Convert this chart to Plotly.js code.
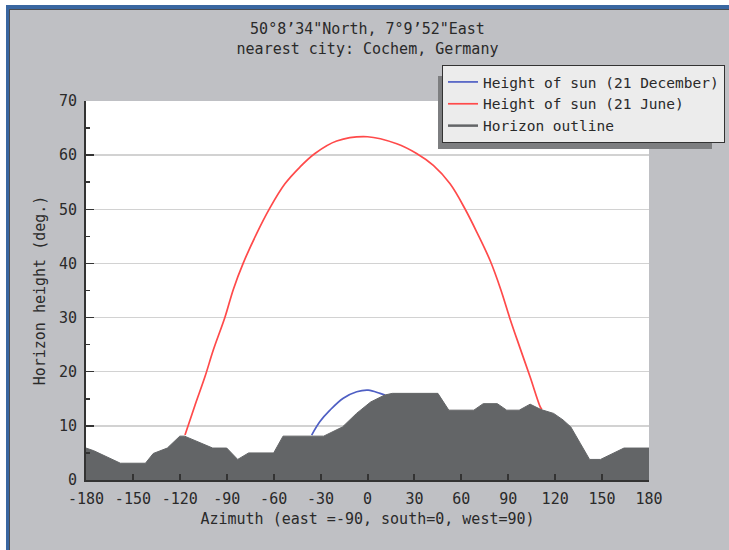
<!DOCTYPE html>
<html><head><meta charset="utf-8">
<script src="https://cdn.plot.ly/plotly-3.0.1.min.js"></script>
<style>
html,body{margin:0;padding:0;background:#fff;}
#wrap{position:relative;width:729px;height:550px;overflow:hidden;}
#chart{position:absolute;left:0;top:0;width:729px;height:550px;}
.f{position:absolute;pointer-events:none;}
</style></head><body>
<div id="wrap"><div id="chart"></div>
<div class="f" style="left:0;top:0;width:729px;height:5px;background:#fff"></div>
<div class="f" style="left:0;top:0;width:6px;height:550px;background:#fff"></div>
<div class="f" style="left:6px;top:5px;width:723px;height:4px;background:#3a67a1"></div>
<div class="f" style="left:6px;top:5px;width:3px;height:545px;background:#3a67a1"></div>
<div class="f" style="left:9px;top:9px;width:720px;height:1px;background:#4a4d52"></div>
<div class="f" style="left:9px;top:9px;width:1px;height:541px;background:#4a4d52"></div>
</div>
<script>
// Horizon outline
const horizonAz = [-180,-175,-158,-142,-137,-128,-120,-117,-99,-90,-83,-76,-60,-54,-28,-16,-7,2,11,16,45,52,68,74,83,89,97,104,111,119,125,130,136,142,149,164,180];
const horizonH  = [5.9,5.4,3.1,3.1,4.9,5.9,8.1,8.1,5.9,5.9,3.8,5.0,5.0,8.1,8.1,9.8,12.3,14.4,15.7,16.0,16.0,12.9,12.9,14.1,14.1,12.9,12.9,14.0,13.0,12.3,11.1,9.8,6.8,3.8,3.8,5.9,5.9];
// Height of sun, 21 June
const juneAz = [-116.7,-110.3,-103.9,-98.6,-91.1,-85.8,-79.4,-70.9,-62.3,-52.8,-43.2,-33.6,-19.7,0,18.7,31.4,42.1,52.8,62.3,70.2,78.6,85.2,91.1,97.5,103.9,110.3,111.5];
const juneH  = [8.3,13.8,19.1,24.0,30.1,35.2,40.1,45.5,50.3,54.7,57.8,60.3,62.6,63.4,62.1,60.3,58.1,54.7,50.1,45.6,40.4,35.2,29.8,24.4,19.1,13.6,13.0];
// Height of sun, 21 December
const decAz = [-35.7,-30.4,-24,-15.5,-6.9,0.5,8,11.2];
const decH  = [8.3,10.8,12.9,15.1,16.3,16.6,16.0,15.7];
// Tick labels
const xTicks = [-180,-150,-120,-90,-60,-30,0,30,60,90,120,150,180];
const yTicks = [0,10,20,30,40,50,60,70];

const FONT = "DejaVu Sans Mono, monospace";
const TXT = "#2a2a2a";

const traces = [
  {x: decAz, y: decH, type:'scatter', mode:'lines', name:'Height of sun (21 December)',
   line:{color:'#4f5fc4', width:1.7, shape:'spline'}},
  {x: juneAz, y: juneH, type:'scatter', mode:'lines', name:'Height of sun (21 June)',
   line:{color:'#ff4a4a', width:1.7, shape:'spline'}},
  {x: horizonAz, y: horizonH, type:'scatter', mode:'lines', fill:'tozeroy', name:'Horizon outline',
   fillcolor:'#636567', line:{color:'#636567', width:1}, showlegend:false},
  {x:[null], y:[null], type:'scatter', mode:'lines', name:'Horizon outline',
   line:{color:'#636567', width:2.5}}
];

const layout = {
  width:729, height:550,
  margin:{l:86, r:80, t:101, b:70, autoexpand:false},
  paper_bgcolor:'#bfc0c4', plot_bgcolor:'#ffffff',
  font:{family:FONT, size:15, color:TXT},
  title:{text:'50°8’34"North, 7°9’52"East<br>nearest city: Cochem, Germany',
    font:{family:FONT, size:15, color:TXT}, x:0.5, xref:'paper', y:1-34/550, yref:'container', yanchor:'top'},
  xaxis:{range:[-180,180], tickvals:xTicks, ticktext:xTicks.map(String), showgrid:false, zeroline:false,
    automargin:false,
    showline:true, linecolor:'#333', linewidth:2, ticks:'inside', ticklen:6, tickwidth:2, tickcolor:'#333',
    ticklabelstandoff:4,
    title:{text:'Azimuth (east =-90, south=0, west=90)', font:{family:FONT, size:15, color:TXT}, standoff:6}},
  yaxis:{range:[0,70], tickvals:yTicks, ticktext:yTicks.map(String), showgrid:true, gridcolor:'#d2d2d2', gridwidth:1.5,
    automargin:false,
    zeroline:false, showline:true, linecolor:'#333', linewidth:2, ticks:'inside', ticklen:8, tickwidth:1.5, tickcolor:'#333',
    minor:{dtick:5, ticks:'inside', ticklen:4, tickcolor:'#333', showgrid:false},
    ticklabelstandoff:4,
    title:{text:'Horizon height (deg.)', font:{family:FONT, size:15, color:TXT}, standoff:10}},
  showlegend:true,
  legend:{x:(442-86)/563, y:(480-65)/379, xanchor:'left', yanchor:'top', bgcolor:'#ececec',
    bordercolor:'#333', borderwidth:1, font:{family:FONT, size:14.5, color:TXT}, traceorder:'normal',
    tracegroupgap:0},
  shapes:[{type:'rect', xref:'paper', yref:'paper', layer:'above',
    x0:(438-86)/563, x1:(712-86)/563, y0:(480-149)/379, y1:(480-76)/379,
    fillcolor:'#7d7e80', line:{width:0}}]
};

Plotly.newPlot('chart', traces, layout, {displayModeBar:false, staticPlot:true});
</script>
</body></html>
